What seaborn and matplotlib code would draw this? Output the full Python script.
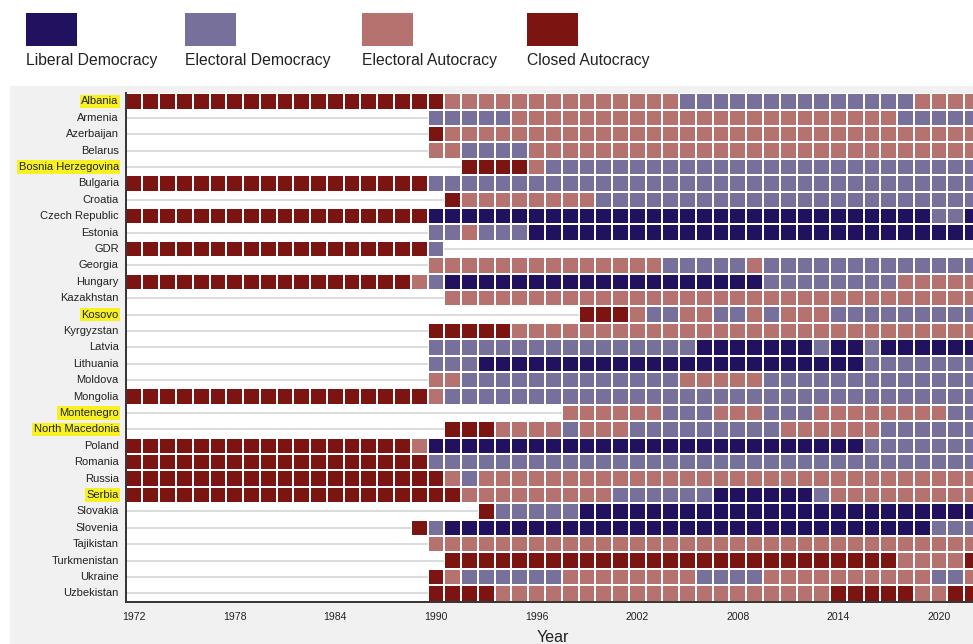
import numpy as np
import pandas as pd
import matplotlib
matplotlib.use("Agg")
import matplotlib.pyplot as plt
from matplotlib.colors import ListedColormap
from matplotlib.patches import Rectangle
import seaborn as sns

# ---------------- data ----------------
years = list(range(1972, 2023))
tick_years = [1972, 1978, 1984, 1990, 1996, 2002, 2008, 2014, 2020]

categories = ["Liberal Democracy", "Electoral Democracy", "Electoral Autocracy", "Closed Autocracy"]
codes = ["L", "E", "A", "C"]
colors = ["#21115f", "#77709a", "#b6726e", "#7c1411"]

countries = ["Albania", "Armenia", "Azerbaijan", "Belarus", "Bosnia Herzegovina", "Bulgaria",
             "Croatia", "Czech Republic", "Estonia", "GDR", "Georgia", "Hungary", "Kazakhstan",
             "Kosovo", "Kyrgyzstan", "Latvia", "Lithuania", "Moldova", "Mongolia", "Montenegro",
             "North Macedonia", "Poland", "Romania", "Russia", "Serbia", "Slovakia", "Slovenia",
             "Tajikistan", "Turkmenistan", "Ukraine", "Uzbekistan"]

highlighted = ["Albania", "Bosnia Herzegovina", "Kosovo", "Montenegro", "North Macedonia", "Serbia"]

# one character per year, grouped: 1972-79 | 1980-89 | 1990-99 | 2000-09 | 2010-19 | 2020-22
regimes = {
    "Albania":            "CCCCCCCC CCCCCCCCCC CAAAAAAAAA AAAAAEEEEE EEEEEEEEEA AAA",
    "Armenia":            "........ .......... EEEEEAAAAA AAAAAAAAAA AAAAAAAAEE EEE",
    "Azerbaijan":         "........ .......... CAAAAAAAAA AAAAAAAAAA AAAAAAAAAA AAA",
    "Belarus":            "........ .......... AAEEEEAAAA AAAAAAAAAA AAAAAAAAAA AAA",
    "Bosnia Herzegovina": "........ .......... ..CCCCAEEE EEEEEEEEEE EEEEEEEEEE EEE",
    "Bulgaria":           "CCCCCCCC CCCCCCCCCC EEEEEEEEEE EEEEEEEEEE EEEEEEEEEE EEE",
    "Croatia":            "........ .......... .CAAAAAAAA EEEEEEEEEE EEEEEEEEEE EEE",
    "Czech Republic":     "CCCCCCCC CCCCCCCCCC LLLLLLLLLL LLLLLLLLLL LLLLLLLLLL EEL",
    "Estonia":            "........ .......... EEAEEELLLL LLLLLLLLLL LLLLLLLLLL LLL",
    "GDR":                "CCCCCCCC CCCCCCCCCC E......... .......... .......... ...",
    "Georgia":            "........ .......... AAAAAAAAAA AAAAEEEEEA EEEEEEEEEE EEE",
    "Hungary":            "CCCCCCCC CCCCCCCCCA ELLLLLLLLL LLLLLLLLLL EEEEEEEEAA AAA",
    "Kazakhstan":         "........ .......... .AAAAAAAAA AAAAAAAAAA AAAAAAAAAA AAA",
    "Kosovo":             "........ .......... .........C CCAEEAAEEA EAAAEEEEEE EEE",
    "Kyrgyzstan":         "........ .......... CCCCCAAAAA AAAAAAAAAA AAAAAAAAAA AAA",
    "Latvia":             "........ .......... EEEEEEEEEE EEEEEELLLL LLLELLELLL LLL",
    "Lithuania":          "........ .......... EEELLLLLLL LLLLLLLLLL LLLLLLEEEE EEE",
    "Moldova":            "........ .......... AAEEEEEEEE EEEEEAAAAA EEEEEEEEEE EEE",
    "Mongolia":           "CCCCCCCC CCCCCCCCCC AEEEEEEEEE EEEEEEEEEE EEEEEEEEEE EEE",
    "Montenegro":         "........ .......... ........AA AAAAEEEAAA EEEAAAAAAA AEE",
    "North Macedonia":    "........ .......... .CCCAAAAEA AAEEEEEEEE EAAAAAAEEE EEE",
    "Poland":             "CCCCCCCC CCCCCCCCCA LLLLLLLLLL LLLLLLLLLL LLLLLLEEEE EEE",
    "Romania":            "CCCCCCCC CCCCCCCCCC EEEEEEEEEE EEEEEEEEEE EEEEEEEEEE EEE",
    "Russia":             "CCCCCCCC CCCCCCCCCC CAEAAAAAAA AAAAAAAAAA AAAAAAAAAA AAA",
    "Serbia":             "CCCCCCCC CCCCCCCCCC CCAAAAAAAA AEEEEEELLL LLLEAAAAAA AAA",
    "Slovakia":           "........ .......... ...CEEEEEL LLLLLLLLLL LLLLLLLLLL LLL",
    "Slovenia":           "........ .........C ELLLLLLLLL LLLLLLLLLL LLLLLLLLLL EEE",
    "Tajikistan":         "........ .......... AAAAAAAAAA AAAAAAAAAA AAAAAAAAAA AAA",
    "Turkmenistan":       "........ .......... .CCCCCCCCC CCCCCCCCCC CCCCCCCCAA AAC",
    "Ukraine":            "........ .......... CAEEEEEEAA AAAAAAEEEE AAAAAAAAAA EEA",
    "Uzbekistan":         "........ .......... CCCCAAAAAA AAAAAAAAAA AAAACCCCCA ACC",
}

# ---------------- build table ----------------
code_to_num = {c: i for i, c in enumerate(codes)}
rows = []
for c in countries:
    s = regimes[c].replace(" ", "")
    rows.append([code_to_num.get(ch, np.nan) for ch in s])
df = pd.DataFrame(rows, index=countries, columns=years, dtype=float)

# ---------------- figure ----------------
W, H = 973, 644
sns.set_theme(style="white")
plt.rcParams["font.family"] = ["Liberation Sans", "DejaVu Sans"]
fig = plt.figure(figsize=(W / 100, H / 100), dpi=100, facecolor="white")

def fx(x):
    return x / W

def fy(y):
    return 1 - y / H

# gray panel
fig.patches.append(Rectangle((fx(10), 0), 1, fy(86), transform=fig.transFigure,
                             facecolor="#f1f1f1", edgecolor="none", zorder=-10))

left, right, top, bottom = 125.7, 981.0, 93.2, 601.5
ax = fig.add_axes([fx(left), fy(bottom), (right - left) / W, (bottom - top) / H])
ax.set_facecolor("white")

cmap = ListedColormap(colors)
sns.heatmap(df, ax=ax, cmap=cmap, vmin=-0.5, vmax=3.5, cbar=False,
            linewidths=1.2, linecolor="white", xticklabels=False, yticklabels=True)

# light guide lines through the years without data
vals = df.to_numpy()
for i in range(vals.shape[0]):
    isnan = np.isnan(vals[i])
    j = 0
    while j < len(isnan):
        if isnan[j]:
            k = j
            while k < len(isnan) and isnan[k]:
                k += 1
            ax.hlines(i + 0.5, j, k, color="#d2d2d2", lw=1.1, zorder=3)
            j = k
        else:
            j += 1

ax.set_xlim(0, len(years))
ax.set_xticks([years.index(y) + 0.5 for y in tick_years])
ax.set_xticklabels([str(y) for y in tick_years], fontsize=7.6, color="#222222", rotation=0)
ax.set_yticks([i + 0.5 for i in range(len(countries))])
ax.set_yticklabels(countries, fontsize=8, color="#222222", rotation=0)
ax.tick_params(axis="x", length=0, pad=7.5)
ax.tick_params(axis="y", length=0, pad=5)
ax.set_xlabel("")
ax.set_ylabel("")

for lab in ax.get_yticklabels():
    if lab.get_text() in highlighted:
        lab.set_bbox(dict(facecolor="#f7f123", edgecolor="none", pad=1.2))

for side in ["left", "bottom"]:
    ax.spines[side].set_visible(True)
    ax.spines[side].set_color("#333333")
    ax.spines[side].set_linewidth(1.4)
    ax.spines[side].set_zorder(4)
for side in ["top", "right"]:
    ax.spines[side].set_visible(False)

fig.text(fx(553), fy(637), "Year", ha="center", va="center", fontsize=11.5, color="#222222")

# legend
leg_x = [26, 185, 362, 527]
for x0, col, name in zip(leg_x, colors, categories):
    fig.patches.append(Rectangle((fx(x0), fy(46)), 51 / W, 33 / H, transform=fig.transFigure,
                                 facecolor=col, edgecolor="none"))
    fig.text(fx(x0), fy(60), name, ha="left", va="center", fontsize=11.3, color="#222222")

fig.savefig("out.png", dpi=100)
